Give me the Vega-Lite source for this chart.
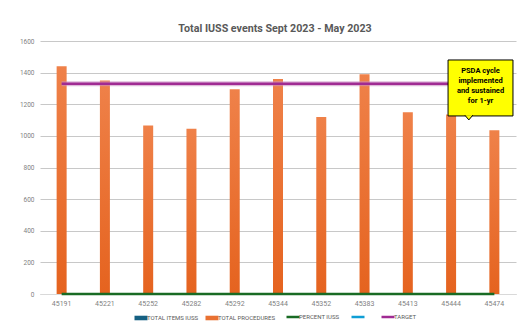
{
  "$schema": "https://vega.github.io/schema/vega-lite/v6.json",
  "width": 476,
  "height": 253,
  "autosize": {"type": "none"},
  "padding": {"left": 40, "top": 41, "right": 1, "bottom": 30},
  "background": "white",
  "title": {"text": "Total IUSS events Sept 2023 - May 2023", "fontSize": 10.7, "fontWeight": "bold", "color": "#595959", "font": "Roboto", "offset": 3, "anchor": "middle", "dx": -3},
  "config": {"view": {"stroke": null}, "font": "Roboto",
    "axis": {"grid": true, "gridColor": "#C8C8C8", "gridOpacity": 1, "gridWidth": 1},
    "axisX": {"grid": false},
    "axisY": {"labelColor": "#7F7F7F", "labelFontSize": 6.5, "grid": true, "gridColor": "#C8C8C8", "gridOpacity": 1, "gridWidth": 1, "ticks": false, "domain": false, "labelPadding": 6, "labelOverlap": false, "format": "d", "title": null}},
  "datasets": {
    "procedures": [
      {"date": "45191", "value": 1440},
      {"date": "45221", "value": 1350},
      {"date": "45252", "value": 1065},
      {"date": "45282", "value": 1045},
      {"date": "45292", "value": 1295},
      {"date": "45344", "value": 1360},
      {"date": "45352", "value": 1120},
      {"date": "45383", "value": 1390},
      {"date": "45413", "value": 1150},
      {"date": "45444", "value": 1135},
      {"date": "45474", "value": 1035}
    ],
    "percent": [
      {"date": "45191", "value": 0, "series": "PERCENT IUSS"},
      {"date": "45221", "value": 0, "series": "PERCENT IUSS"},
      {"date": "45252", "value": 0, "series": "PERCENT IUSS"},
      {"date": "45282", "value": 0, "series": "PERCENT IUSS"},
      {"date": "45292", "value": 0, "series": "PERCENT IUSS"},
      {"date": "45344", "value": 0, "series": "PERCENT IUSS"},
      {"date": "45352", "value": 0, "series": "PERCENT IUSS"},
      {"date": "45383", "value": 0, "series": "PERCENT IUSS"},
      {"date": "45413", "value": 0, "series": "PERCENT IUSS"},
      {"date": "45444", "value": 0, "series": "PERCENT IUSS"},
      {"date": "45474", "value": 0, "series": "PERCENT IUSS"}
    ],
    "target": [
      {"date": "45191", "value": 1330, "series": "TARGET"},
      {"date": "45221", "value": 1330, "series": "TARGET"},
      {"date": "45252", "value": 1330, "series": "TARGET"},
      {"date": "45282", "value": 1330, "series": "TARGET"},
      {"date": "45292", "value": 1330, "series": "TARGET"},
      {"date": "45344", "value": 1330, "series": "TARGET"},
      {"date": "45352", "value": 1330, "series": "TARGET"},
      {"date": "45383", "value": 1330, "series": "TARGET"},
      {"date": "45413", "value": 1330, "series": "TARGET"},
      {"date": "45444", "value": 1330, "series": "TARGET"},
      {"date": "45474", "value": 1330, "series": "TARGET"}
    ],
    "callout": [
      {"x1": 9.43, "x2": 10.93, "y1": 1480, "y2": 1126, "xc": 10.18, "yc": 1412, "px": 9.91, "py": 1116, "label": "PSDA cycle\nimplemented\nand sustained\nfor 1-yr"}
    ]
  },
  "layer": [
    {
      "layer": [
        {
          "data": {"name": "procedures"},
          "mark": {"type": "bar", "size": 10, "color": {"gradient": "linear", "x1": 0, "y1": 0, "x2": 0, "y2": 1, "stops": [{"offset": 0, "color": "#EF8149"}, {"offset": 1, "color": "#E5631F"}]}},
          "encoding": {
            "x": {"field": "date", "type": "nominal", "sort": null, "scale": {"paddingInner": 0, "paddingOuter": 0},
                  "axis": {"title": null, "labelAngle": 0, "ticks": false, "domain": true, "domainColor": "#D9D9D9", "labelColor": "#7F7F7F", "labelFontSize": 7, "labelPadding": 5, "grid": false}},
            "y": {"field": "value", "type": "quantitative", "scale": {"domain": [0, 1600], "nice": false},
                  "axis": {"values": [0, 200, 400, 600, 800, 1000, 1200, 1400, 1600], "grid": true, "gridColor": "#C8C8C8", "labelColor": "#7F7F7F"}}
          }
        },
        {
          "data": {"name": "percent"},
          "mark": {"type": "line", "strokeWidth": 2.5},
          "encoding": {
            "x": {"field": "date", "type": "nominal", "sort": null},
            "y": {"field": "value", "type": "quantitative", "axis": {"values": [0, 200, 400, 600, 800, 1000, 1200, 1400, 1600], "grid": true, "gridColor": "#C8C8C8", "labelColor": "#7F7F7F"}},
            "color": {"field": "series", "type": "nominal",
              "scale": {"domain": ["TOTAL ITEMS IUSS", "TOTAL PROCEDURES", "PERCENT IUSS", " ", "TARGET"], "range": ["#156082", "#E97132", "#196B24", "#0F9ED5", "#A02B93"]},
              "legend": {"orient": "none", "legendX": 98, "legendY": 273, "direction": "horizontal", "title": null, "labelFontSize": 6, "labelColor": "#595959", "symbolSize": 169, "columnPadding": 6, "labelOffset": 3,
                "encode": {"symbols": {"update": {
                  "shape": {"signal": "(datum.value === 'TOTAL ITEMS IUSS' || datum.value === 'TOTAL PROCEDURES') ? 'M-1,-0.35H1V0.35H-1Z' : 'M-1,0H1'"},
                  "fill": {"signal": "(datum.value === 'TOTAL ITEMS IUSS' || datum.value === 'TOTAL PROCEDURES') ? scale('color', datum.value) : 'transparent'"},
                  "stroke": {"signal": "scale('color', datum.value)"},
                  "strokeWidth": {"signal": "(datum.value === 'TOTAL ITEMS IUSS' || datum.value === 'TOTAL PROCEDURES') ? 0 : 2.5"},
                  "opacity": {"value": 1}
                }}}}
            }
          }
        },
        {
          "data": {"name": "target"},
          "mark": {"type": "line", "strokeWidth": 5, "color": "#C98DC1", "opacity": 0.6},
          "encoding": {
            "x": {"field": "date", "type": "nominal", "sort": null},
            "y": {"field": "value", "type": "quantitative", "axis": {"values": [0, 200, 400, 600, 800, 1000, 1200, 1400, 1600], "grid": true, "gridColor": "#C8C8C8", "labelColor": "#7F7F7F"}}
          }
        },
        {
          "data": {"name": "target"},
          "mark": {"type": "line", "strokeWidth": 2.5},
          "encoding": {
            "x": {"field": "date", "type": "nominal", "sort": null},
            "y": {"field": "value", "type": "quantitative", "axis": {"values": [0, 200, 400, 600, 800, 1000, 1200, 1400, 1600], "grid": true, "gridColor": "#C8C8C8", "labelColor": "#7F7F7F"}},
            "color": {"field": "series", "type": "nominal"}
          }
        }
      ]
    },
    {
      "data": {"name": "callout"},
      "layer": [
        {
          "mark": {"type": "rect", "fill": "#FFFF00", "stroke": "#000000", "strokeWidth": 1},
          "encoding": {
            "x": {"field": "x1", "type": "quantitative", "scale": {"domain": [0, 11], "nice": false, "zero": false}, "axis": null},
            "x2": {"field": "x2"},
            "y": {"field": "y1", "type": "quantitative", "scale": {"domain": [0, 1600], "nice": false}, "axis": null},
            "y2": {"field": "y2"}
          }
        },
        {
          "mark": {"type": "point", "shape": "M-1,-0.6L0,0.6L1,-0.6", "filled": true, "fill": "#FFFF00", "stroke": "#000000", "strokeWidth": 1, "size": 64, "opacity": 1},
          "encoding": {
            "x": {"field": "px", "type": "quantitative"},
            "y": {"field": "py", "type": "quantitative"}
          }
        },
        {
          "mark": {"type": "text", "fontWeight": "bold", "fontSize": 7.5, "lineBreak": "\n", "lineHeight": 10, "color": "#000000", "align": "center", "baseline": "middle"},
          "encoding": {
            "x": {"field": "xc", "type": "quantitative"},
            "y": {"field": "yc", "type": "quantitative"},
            "text": {"field": "label"}
          }
        }
      ]
    }
  ],
  "resolve": {"scale": {"x": "independent", "y": "independent"}}
}
